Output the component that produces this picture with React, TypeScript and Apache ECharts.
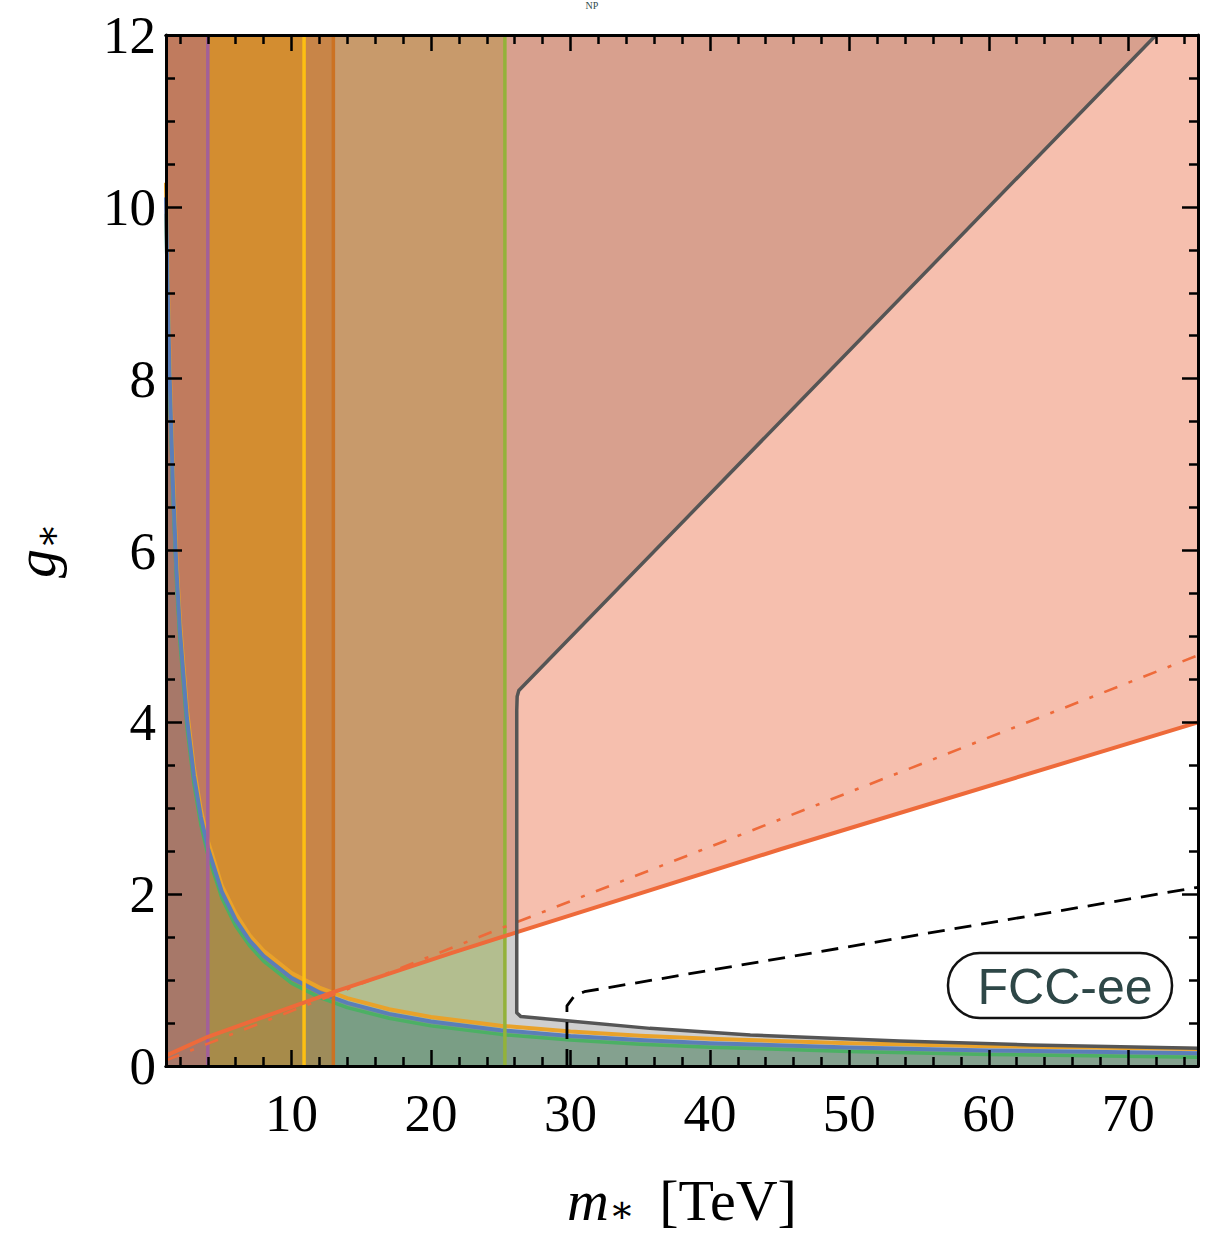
import React, { useEffect, useRef } from "react";
import * as echarts from "echarts";

// ---------- axis ticks ----------
const X_MAJOR = [10, 20, 30, 40, 50, 60, 70];
const X_MINOR = [2, 4, 6, 8, 12, 14, 16, 18, 22, 24, 26, 28, 32, 34, 36, 38, 42, 44, 46, 48, 52, 54, 56, 58, 62, 64, 66, 68, 72, 74];

// ---------- vertical bounds (m*) ----------
const M_PURPLE = 4.0;
const M_YELLOW = 10.9;
const M_DKORANGE = 13.0;
const M_GREEN = 25.3;

// ---------- orange solid line ----------
const ORL_M = [1, 4.0, 13, 21.4, 26.4, 45, 75];
const ORL_G = [0.12, 0.34, 0.86, 1.31, 1.57, 2.52, 4.0];

// ---------- orange dash-dot line ----------
const DD_M = [1, 4.0, 13, 25.3, 42.2, 75];
const DD_G = [0.065, 0.26, 0.83, 1.62, 2.69, 4.78];

// ---------- hyperbolic curves ----------
const HM = [1, 1.1, 1.25, 1.5, 1.75, 2, 2.5, 3, 3.5, 4, 5, 6, 7, 8, 10, 12, 14, 17, 20, 25, 30, 35, 40, 50, 60, 75];
const H_ORANGE = [10.28, 9.35, 8.23, 6.88, 5.9, 5.17, 4.15, 3.47, 2.98, 2.62, 2.1, 1.77, 1.52, 1.34, 1.082, 0.912, 0.79, 0.661, 0.571, 0.469, 0.401, 0.353, 0.316, 0.265, 0.231, 0.197];
const H_BLUE = [10.11, 9.19, 8.09, 6.75, 5.78, 5.06, 4.05, 3.38, 2.9, 2.54, 2.03, 1.7, 1.46, 1.28, 1.023, 0.855, 0.734, 0.607, 0.518, 0.417, 0.35, 0.302, 0.266, 0.215, 0.181, 0.148];
const H_GREEN = [9.92, 9.01, 7.93, 6.61, 5.65, 4.94, 3.95, 3.29, 2.81, 2.46, 1.96, 1.63, 1.4, 1.22, 0.965, 0.799, 0.68, 0.555, 0.467, 0.368, 0.302, 0.254, 0.219, 0.169, 0.135, 0.103];

// ---------- dark contour ----------
const CT_M = [72.0, 26.3, 26.18, 26.15, 26.15, 26.45, 29.75, 35.7, 42.9, 53.6, 63, 75];
const CT_G = [12, 4.37, 4.3, 4.14, 0.62, 0.575, 0.527, 0.438, 0.36, 0.29, 0.245, 0.206];

// ---------- dashed black line ----------
const DS_M = [29.75, 29.75, 30.3, 31.0, 75];
const DS_G = [0, 0.7, 0.82, 0.865, 2.08];

const XMIN = 1, XMAX = 75, YMIN = 0, YMAX = 12;

const zip = (ms: number[], gs: number[]) => ms.map((m, i) => [m, gs[i]]);

function interp(ms: number[], gs: number[], m: number) {
  if (m <= ms[0]) return gs[0];
  for (let i = 1; i < ms.length; i++) {
    if (m <= ms[i]) {
      const t = (m - ms[i - 1]) / (ms[i] - ms[i - 1]);
      return gs[i - 1] + t * (gs[i] - gs[i - 1]);
    }
  }
  return gs[gs.length - 1];
}

function curveBetween(ms: number[], gs: number[], a: number, b: number) {
  const pts: number[][] = [[a, interp(ms, gs, a)]];
  ms.forEach((m, i) => {
    if (m > a && m < b) pts.push([m, gs[i]]);
  });
  pts.push([b, interp(ms, gs, b)]);
  return pts;
}

function polySeries(points: number[][], color: string, z: number) {
  return {
    type: "custom",
    coordinateSystem: "cartesian2d",
    silent: true,
    z,
    clip: true,
    data: [points[0]],
    renderItem: (_p: any, api: any) => ({
      type: "polygon",
      shape: { points: points.map((p) => api.coord(p)) },
      style: { fill: color },
    }),
  };
}

function lineSeries(data: number[][], color: string, width: number, z: number, type: any = "solid") {
  return {
    type: "line",
    data,
    showSymbol: false,
    symbol: "none",
    silent: true,
    z,
    clip: true,
    lineStyle: { color, width, type, cap: "butt", join: "round" },
  };
}

function vline(m: number, color: string, z: number) {
  return lineSeries([[m, YMIN], [m, YMAX]], color, 3.5, z);
}

export default function App() {
  const ref = useRef<HTMLDivElement>(null);
  useEffect(() => {
    if (!ref.current) return;
    const chart = echarts.init(ref.current, null, { renderer: "svg" });

    const orl = (a: number, b: number) => curveBetween(ORL_M, ORL_G, a, b);
    const blue = (a: number, b: number) => curveBetween(HM, H_BLUE, a, b);
    const ctTopEnd = 3;

    const pinkAll = [...orl(XMIN, XMAX), [XMAX, YMAX], [XMIN, YMAX]];
    const ctUpper = zip(CT_M.slice(0, ctTopEnd + 1), CT_G.slice(0, ctTopEnd + 1));
    const grayUpper = [[XMIN, YMAX], ...ctUpper, ...orl(XMIN, 26.15).reverse()];
    const ctLower = zip(CT_M.slice(ctTopEnd + 1), CT_G.slice(ctTopEnd + 1));
    const grayLower = [...orl(XMIN, 26.15), ...ctLower, [XMAX, YMIN], [XMIN, YMIN]];
    const bandTanTop = [[XMIN, YMAX], [M_GREEN, YMAX], ...orl(XMIN, M_GREEN).reverse()];
    const bandTanBot = [...orl(XMIN, M_GREEN), [M_GREEN, YMIN], [XMIN, YMIN]];
    const rect = (a: number, b: number) => [[a, YMIN], [b, YMIN], [b, YMAX], [a, YMAX]];
    const under = (a: number, b: number) => [[a, YMIN], ...blue(a, b), [b, YMIN]];

    const series: any[] = [
      polySeries(pinkAll, "#F6BFAE", 1),
      polySeries(grayUpper, "#D8A08E", 1),
      polySeries(grayLower, "#CFCFCF", 1),
      polySeries(bandTanTop, "#C89A6B", 1),
      polySeries(bandTanBot, "#B3BE8F", 1),
      polySeries(rect(XMIN, M_DKORANGE), "#C88548", 1),
      polySeries(rect(XMIN, M_YELLOW), "#D38D30", 1),
      polySeries(rect(XMIN, M_PURPLE), "#C07B5E", 1),
      polySeries(under(M_GREEN, XMAX), "#84A18F", 1),
      polySeries(under(M_DKORANGE, M_GREEN), "#7A9E85", 1),
      polySeries(under(M_YELLOW, M_DKORANGE), "#9E8C5A", 1),
      polySeries(under(M_PURPLE, M_YELLOW), "#A78B4A", 1),
      polySeries(under(XMIN, M_PURPLE), "#A77869", 1),
      // curves
      lineSeries(zip(HM, H_GREEN), "#4CB064", 3.5, 3),
      lineSeries(zip(HM, H_ORANGE), "#E9A22A", 4, 3),
      lineSeries(zip(HM, H_BLUE), "#5B7EB8", 4, 3),
      // verticals
      vline(M_PURPLE, "#A2609A", 4),
      vline(M_YELLOW, "#FDBF12", 4),
      vline(M_DKORANGE, "#CC7222", 4),
      vline(M_GREEN, "#93B23A", 4),
      // orange lines
      lineSeries(zip(DD_M, DD_G), "#EE6A3A", 2.6, 5, [14, 12, 4, 12]),
      lineSeries(zip(ORL_M, ORL_G), "#EE6A3A", 4, 5),
      // contour
      lineSeries(zip(CT_M, CT_G), "#555555", 3.5, 6),
      // dashed
      lineSeries(zip(DS_M, DS_G), "#000000", 2.8, 7, [17, 10]),
    ];

    const fontSerif = "'Liberation Serif', 'DejaVu Serif', serif";
    const baseAxis = {
      min: XMIN,
      max: XMAX,
      type: "value",
      z: 20,
      splitLine: { show: false },
      axisLine: { show: true, onZero: false, lineStyle: { color: "#000", width: 3 } },
    };

    const xAxes: any[] = [
      {
        ...baseAxis,
        position: "bottom",
        axisTick: { show: true, inside: true, length: 16, customValues: X_MAJOR, lineStyle: { color: "#000", width: 2.5 } },
        axisLabel: { show: true, customValues: X_MAJOR, fontFamily: fontSerif, fontSize: 53, color: "#000", margin: 20 },
        name: "{i|m}{s|∗} [TeV]",
        nameLocation: "middle",
        nameGap: 104,
        nameTextStyle: {
          fontFamily: fontSerif,
          fontSize: 58,
          lineHeight: 60,
          color: "#000",
          rich: {
            i: { fontFamily: fontSerif, fontSize: 58, fontStyle: "italic", color: "#000", lineHeight: 60 },
            s: { fontFamily: fontSerif, fontSize: 38, color: "#000", padding: [18, 10, 0, 0], lineHeight: 40 },
          },
        },
      },
      {
        ...baseAxis,
        position: "bottom",
        axisTick: { show: true, inside: true, length: 9, customValues: X_MINOR, lineStyle: { color: "#000", width: 2.5 } },
        axisLabel: { show: false },
      },
      {
        ...baseAxis,
        position: "top",
        axisTick: { show: true, inside: true, length: 16, customValues: X_MAJOR, lineStyle: { color: "#000", width: 2.5 } },
        axisLabel: { show: false },
      },
      {
        ...baseAxis,
        position: "top",
        axisTick: { show: true, inside: true, length: 9, customValues: X_MINOR, lineStyle: { color: "#000", width: 2.5 } },
        axisLabel: { show: false },
      },
    ];

    const baseY = {
      type: "value",
      min: YMIN,
      max: YMAX,
      interval: 2,
      z: 20,
      splitLine: { show: false },
      axisLine: { show: true, onZero: false, lineStyle: { color: "#000", width: 3 } },
      axisTick: { show: true, inside: true, length: 16, lineStyle: { color: "#000", width: 2.5 } },
      minorTick: { show: true, splitNumber: 4, length: 9, lineStyle: { color: "#000", width: 2.5 } },
    };

    const yAxes: any[] = [
      {
        ...baseY,
        position: "left",
        axisLabel: { show: true, fontFamily: fontSerif, fontSize: 53, color: "#000", margin: 10 },
        name: "{i|g}{s|∗}",
        nameLocation: "middle",
        nameGap: 100,
        nameRotate: 90,
        nameTextStyle: {
          fontFamily: fontSerif,
          fontSize: 58,
          color: "#000",
          rich: {
            i: { fontFamily: fontSerif, fontSize: 58, fontStyle: "italic", color: "#000" },
            s: { fontFamily: fontSerif, fontSize: 38, color: "#000", padding: [24, 0, 0, 0] },
          },
        },
      },
      { ...baseY, position: "right", axisLabel: { show: false } },
    ];

    chart.setOption({
      animation: false,
      backgroundColor: "#ffffff",
      grid: { left: 166, right: 14, top: 35, bottom: 172, containLabel: false, outerBoundsMode: "none" },
      xAxis: xAxes,
      yAxis: yAxes,
      series,
      graphic: [
        {
          type: "text",
          x: 592,
          y: 0,
          z: 50,
          style: { text: "NP", fontSize: 10, fill: "#2F4B4B", fontFamily: fontSerif, align: "center", verticalAlign: "top" },
        },
        {
          type: "rect",
          z: 50,
          shape: { x: 948, y: 953, width: 224, height: 65, r: 32 },
          style: { fill: "#ffffff", stroke: "#111111", lineWidth: 2.5 },
        },
        {
          type: "text",
          z: 51,
          x: 1065,
          y: 987,
          style: {
            text: "FCC-ee",
            fontSize: 50,
            fontFamily: "'Liberation Sans', Arial, sans-serif",
            fill: "#2E4747",
            align: "center",
            verticalAlign: "middle",
          },
        },
      ],
    });

    return () => chart.dispose();
  }, []);

  return (
    <div
      ref={ref}
      style={{ position: "absolute", left: 0, top: 0, width: 1212, height: 1238 }}
    />
  );
}
